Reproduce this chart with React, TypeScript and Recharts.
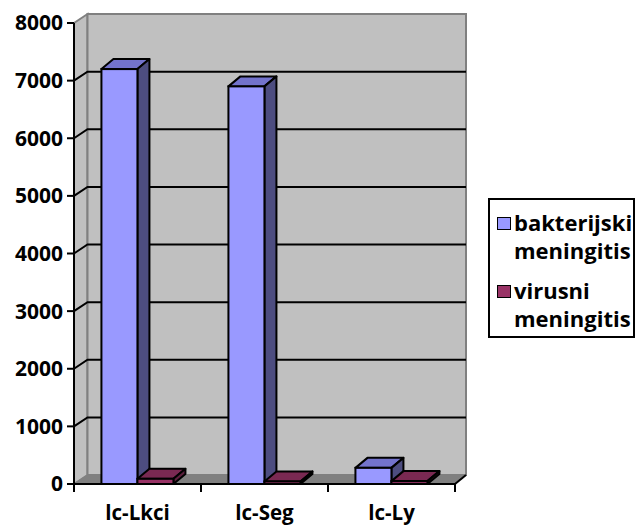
import React from 'react';
import { BarChart, Bar, XAxis, YAxis, CartesianGrid, Legend } from 'recharts';

const categories = ['lc-Lkci', 'lc-Seg', 'lc-Ly'];
const bakterijski = [7200, 6900, 280];
const virusni = [90, 45, 50];
const seriesNames = ['bakterijski meningitis', 'virusni meningitis'];
const yTicks = [0, 1000, 2000, 3000, 4000, 5000, 6000, 7000, 8000];

const data = categories.map((c, i) => ({ name: c, bakt: bakterijski[i], vir: virusni[i] }));

const FONT = '"Open Sans", Lato, sans-serif';
const colors = [
  { front: '#9999FF', top: '#7373CC', side: '#4D4D80' },
  { front: '#993366', top: '#7A2952', side: '#5C1F3D' },
];

const WALL_L = 13.5;
const WALL_R = 11;
const WALL_D = -9;
const BAR_DX = 12;
const BAR_DY = -10;

const makeBarShape = (c: { front: string; top: string; side: string }) => (props: any) => {
  const { x, y, width, height } = props;
  if (x == null || width == null || height == null) return <g />;
  const pts = (arr: number[][]) => arr.map((p) => `${p[0]},${p[1]}`).join(' ');
  return (
    <g>
      <polygon
        points={pts([[x, y], [x + BAR_DX, y + BAR_DY], [x + width + BAR_DX, y + BAR_DY], [x + width, y]])}
        fill={c.top}
        stroke="#000"
        strokeWidth={2}
        strokeLinejoin="round"
      />
      <polygon
        points={pts([[x + width, y], [x + width + BAR_DX, y + BAR_DY], [x + width + BAR_DX, y + height + BAR_DY], [x + width, y + height]])}
        fill={c.side}
        stroke="#000"
        strokeWidth={2}
        strokeLinejoin="round"
      />
      <rect x={x} y={y} width={width} height={height} fill={c.front} stroke="#000" strokeWidth={2} />
    </g>
  );
};

const gridLine = (p: any) => {
  const { x, y, width, height, y1, index } = p;
  const bottom = y + height;
  const right = x + width;
  const parts: React.ReactNode[] = [];
  if (index === 0) {
    const n = categories.length;
    parts.push(
      <polygon
        key="side"
        points={`${x},${y} ${x + WALL_L},${y + WALL_D} ${x + WALL_L},${bottom + WALL_D} ${x},${bottom}`}
        fill="#C0C0C0"
        stroke="#808080"
        strokeWidth={2}
      />
    );
    parts.push(
      <polygon
        key="back"
        points={`${x + WALL_L},${y + WALL_D} ${right + WALL_R},${y + WALL_D} ${right + WALL_R},${bottom + WALL_D} ${x + WALL_L},${bottom + WALL_D}`}
        fill="#C0C0C0"
        stroke="#808080"
        strokeWidth={2}
      />
    );
    parts.push(
      <polygon
        key="floor"
        points={`${x},${bottom} ${right},${bottom} ${right + WALL_R},${bottom + WALL_D} ${x + WALL_L},${bottom + WALL_D}`}
        fill="#808080"
        stroke="#808080"
        strokeWidth={1}
      />
    );
    parts.push(
      <line key="fr" x1={right} y1={bottom} x2={right + WALL_R} y2={bottom + WALL_D} stroke="#000" strokeWidth={2} />
    );
    for (let i = 0; i <= n; i++) {
      const tx = x + (i * width) / n;
      parts.push(<line key={`xt${i}`} x1={tx} y1={bottom} x2={tx} y2={bottom + 8} stroke="#000" strokeWidth={2} />);
    }
  }
  if (Math.abs(y1 - y) > 1 && Math.abs(y1 - bottom) > 1) {
    parts.push(
      <polyline
        key="gl"
        points={`${x},${y1} ${x + WALL_L},${y1 + WALL_D} ${right + WALL_R},${y1 + WALL_D}`}
        fill="none"
        stroke="#000"
        strokeWidth={2}
      />
    );
  }
  return <g key={p.key}>{parts}</g>;
};

const XTick = (props: any) => {
  const { x, y, payload } = props;
  return (
    <text x={x} y={y + 28} textAnchor="middle" fontFamily={FONT} fontWeight={700} fontSize={20.5} fill="#000">
      {payload.value}
    </text>
  );
};

const LegendContent = () => (
  <div
    style={{
      width: 147,
      height: 140,
      boxSizing: 'border-box',
      border: '2px solid #000',
      background: '#fff',
      fontFamily: FONT,
      fontWeight: 700,
      fontSize: 22,
      lineHeight: '28px',
      padding: '8px 0 0 7px',
      color: '#000',
      textAlign: 'left',
      whiteSpace: 'nowrap',
    }}
  >
    {seriesNames.map((name, i) => {
      const words = name.split(' ');
      return (
        <div key={name} style={{ display: 'flex', alignItems: 'flex-start', marginBottom: i === 0 ? 12 : 0 }}>
          <div
            style={{
              width: 14,
              height: 13,
              boxSizing: 'border-box',
              border: '1.5px solid #000',
              background: colors[i].front,
              marginTop: 9,
              marginRight: 3,
              flex: '0 0 auto',
            }}
          />
          <div>
            {words.map((w) => (
              <div key={w}>{w}</div>
            ))}
          </div>
        </div>
      );
    })}
  </div>
);

export default function App() {
  return (
    <div style={{ position: 'absolute', left: 0, top: 0 }}>
      <BarChart
        width={635}
        height={532}
        data={data}
        margin={{ top: 23, right: 180, bottom: 0, left: 0 }}
        barGap={0}
        barCategoryGap="21.6%"
      >
        <CartesianGrid vertical={false} horizontal={gridLine} />
        <XAxis
          dataKey="name"
          height={48}
          axisLine={{ stroke: '#000', strokeWidth: 2 }}
          tickLine={false}
          tick={<XTick />}
          interval={0}
        />
        <YAxis
          width={74}
          domain={[0, 8000]}
          ticks={yTicks}
          interval={0}
          axisLine={{ stroke: '#000', strokeWidth: 2 }}
          tickLine={{ stroke: '#000', strokeWidth: 2 }}
          tickSize={7}
          tickMargin={4}
          tick={{ fill: '#000', fontFamily: FONT, fontWeight: 700, fontSize: 21 }}
        />
        <Legend
          layout="vertical"
          align="center"
          verticalAlign="middle"
          content={<LegendContent />}
          wrapperStyle={{ left: 488, top: 198, width: 147, height: 140 }}
        />
        <Bar dataKey="bakt" name={seriesNames[0]} fill={colors[0].front} shape={makeBarShape(colors[0])} isAnimationActive={false} />
        <Bar dataKey="vir" name={seriesNames[1]} fill={colors[1].front} shape={makeBarShape(colors[1])} isAnimationActive={false} />
      </BarChart>
    </div>
  );
}
